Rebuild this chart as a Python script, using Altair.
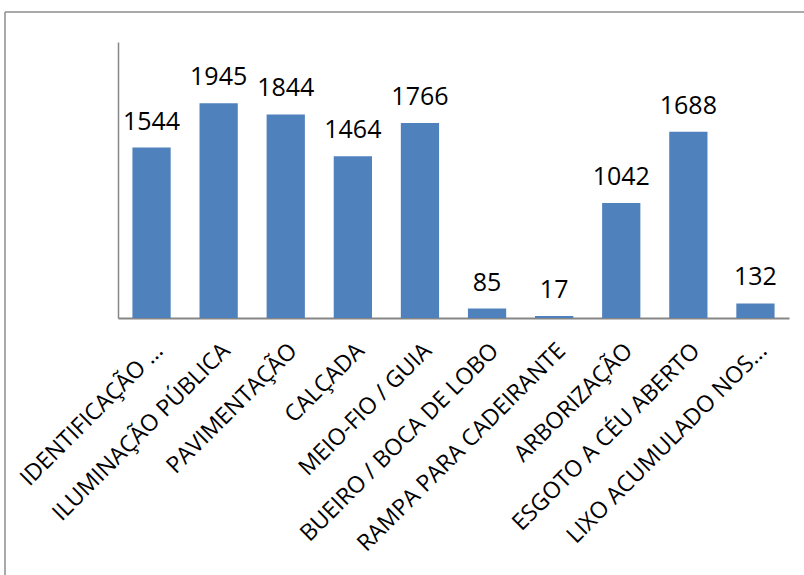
import altair as alt
import pandas as pd

categories = ["IDENTIFICAÇÃO ...", "ILUMINAÇÃO PÚBLICA", "PAVIMENTAÇÃO", "CALÇADA",
              "MEIO-FIO / GUIA", "BUEIRO / BOCA DE LOBO", "RAMPA PARA CADEIRANTE",
              "ARBORIZAÇÃO", "ESGOTO A CÉU ABERTO", "LIXO ACUMULADO NOS..."]
values = [1544, 1945, 1844, 1464, 1766, 85, 17, 1042, 1688, 132]

df = pd.DataFrame({"cat": categories, "val": values})

FONT = "Open Sans"
W, H = 671, 276
LEFT, TOP = 118, 42

x = alt.X("cat:N", sort=None, title=None,
          scale=alt.Scale(paddingInner=0.43, paddingOuter=0.215),
          axis=alt.Axis(labelAngle=-45, labelAlign="right", labelBaseline="top",
                        labelFont=FONT, labelFontSize=23, labelColor="black",
                        ticks=False, domainColor="#868686", domainWidth=2,
                        labelPadding=21, labelOffset=0, labelLimit=400))
y = alt.Y("val:Q", title=None, scale=alt.Scale(domain=[0, 2500], nice=False),
          axis=alt.Axis(labels=False, ticks=False, grid=False,
                        domainColor="#868686", domainWidth=1.5))

bars = alt.Chart(df).mark_bar(color="#4F81BD").encode(x=x, y=y)
labels = alt.Chart(df).mark_text(font=FONT, fontSize=25, color="black",
                                 baseline="alphabetic", dy=-18).encode(
    x=alt.X("cat:N", sort=None), y="val:Q", text="val:Q")

frame_df = pd.DataFrame({"k": [0]})
frame_left = alt.Chart(frame_df).mark_rule(color="#8c8c8c", strokeWidth=1.5).encode(
    x=alt.value(5 - LEFT), y=alt.value(12 - TOP), y2=alt.value(575 - TOP))
frame_top = alt.Chart(frame_df).mark_rule(color="#8c8c8c", strokeWidth=1.5).encode(
    x=alt.value(5 - LEFT), x2=alt.value(804 - LEFT), y=alt.value(12 - TOP))

chart = alt.layer(bars, labels, frame_left, frame_top).properties(
    width=W, height=H,
    autosize=alt.AutoSizeParams(type="none"),
    padding={"left": LEFT, "top": TOP, "right": 804 - LEFT - W, "bottom": 575 - TOP - H},
    background="white",
).configure_view(stroke=None)

chart.save("out.html", embed_options={"renderer": "svg", "actions": False})
